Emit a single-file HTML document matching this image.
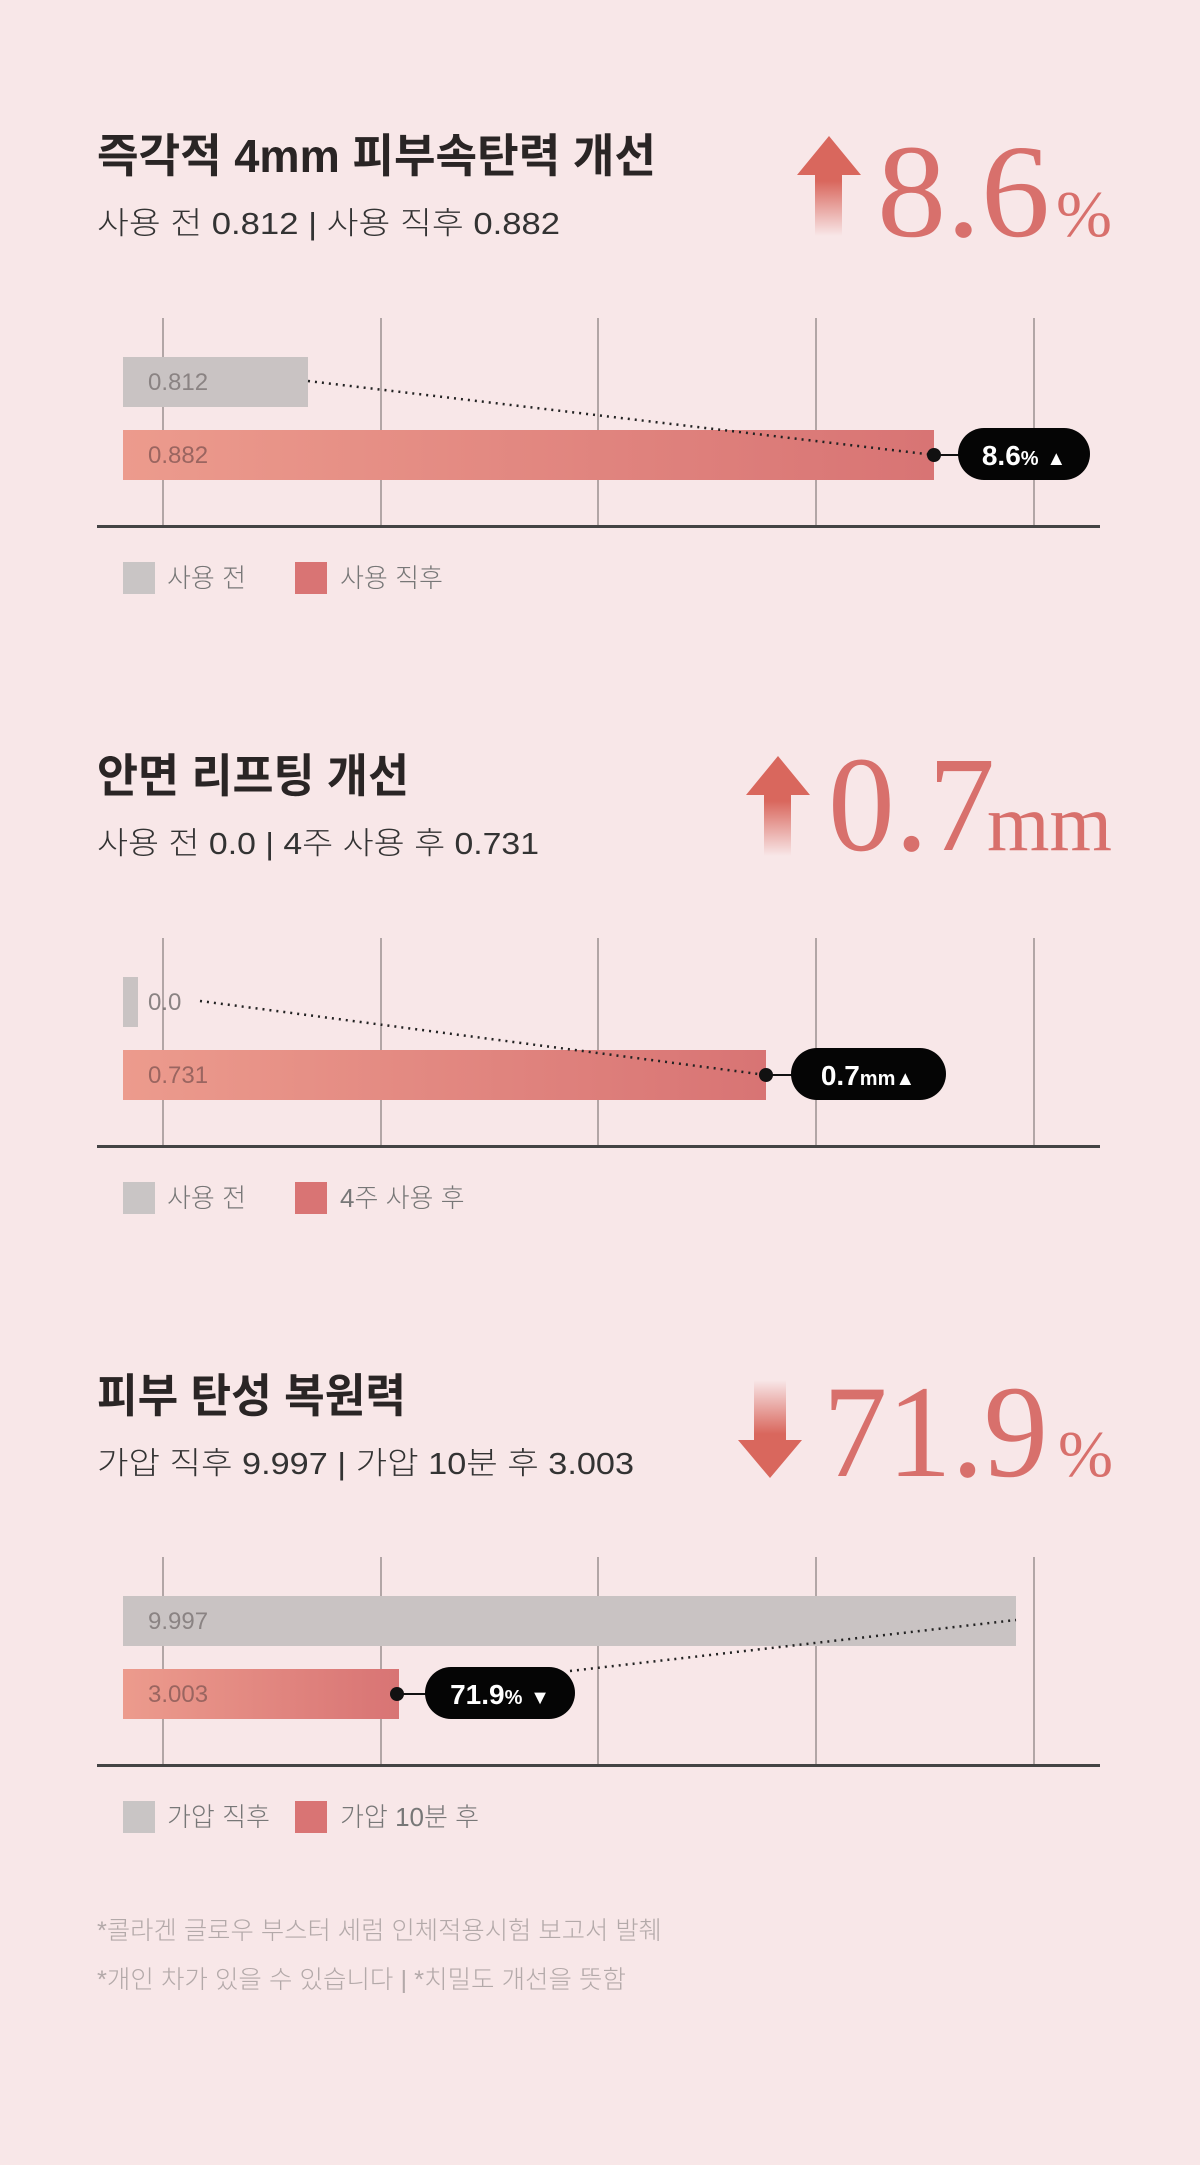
<!DOCTYPE html>
<html><head><meta charset="utf-8"><style>
html,body{margin:0;padding:0;background:#f8e7e8;}
svg{display:block;}
.t{font-family:"Liberation Sans","Noto Sans CJK KR",sans-serif;}
.s{font-family:"Liberation Serif","Noto Serif CJK SC",serif;}
</style></head><body>
<svg width="1200" height="2165" viewBox="0 0 1200 2165" xmlns="http://www.w3.org/2000/svg">
<defs>
<linearGradient id="bar" x1="0" x2="1" y1="0" y2="0"><stop offset="0" stop-color="#ec9b8d"/><stop offset="1" stop-color="#d87474"/></linearGradient>
<linearGradient id="up" x1="0" x2="0" y1="0" y2="1"><stop offset="0.45" stop-color="#d9675d"/><stop offset="1" stop-color="#d9675d" stop-opacity="0"/></linearGradient>
<linearGradient id="dn" x1="0" x2="0" y1="1" y2="0"><stop offset="0.45" stop-color="#d9675d"/><stop offset="1" stop-color="#d9675d" stop-opacity="0"/></linearGradient>
</defs>
<rect width="1200" height="2165" fill="#f8e7e8"/>

<!-- Section 1 -->
<text class="t" x="97" y="172" font-size="46" font-weight="700" fill="#2a2525" textLength="559" lengthAdjust="spacingAndGlyphs">즉각적 4mm 피부속탄력 개선</text>
<text class="t" x="97" y="234" font-size="31" font-weight="300" fill="#333" textLength="463" lengthAdjust="spacingAndGlyphs">사용 전 0.812 | 사용 직후 0.882</text>
<path d="M797,175 L829,136 L861,175 L842,175 L842,236 L815,236 L815,175 Z" fill="url(#up)"/>
<text class="s" x="877" y="236" font-size="133" fill="#d8706c" textLength="173" lengthAdjust="spacingAndGlyphs">8.6</text>
<text class="s" x="1056" y="236" font-size="66" fill="#d8706c" textLength="56" lengthAdjust="spacingAndGlyphs">%</text>
<g stroke="#6d6565" stroke-width="1"><line x1="163" y1="318" x2="163" y2="526"/><line x1="381" y1="318" x2="381" y2="526"/><line x1="598" y1="318" x2="598" y2="526"/><line x1="816" y1="318" x2="816" y2="526"/><line x1="1034" y1="318" x2="1034" y2="526"/></g>
<rect x="123" y="357" width="185" height="50" fill="#c9c3c3"/>
<rect x="123" y="430" width="811" height="50" fill="url(#bar)"/>
<text class="t" x="148" y="390" font-size="24" font-weight="300" fill="#8a8383">0.812</text>
<text class="t" x="148" y="463" font-size="24" font-weight="300" fill="#9a6560">0.882</text>
<line x1="308" y1="381" x2="934" y2="455" stroke="#222" stroke-width="2.5" stroke-dasharray="2,5"/>
<line x1="934" y1="455" x2="960" y2="455" stroke="#111" stroke-width="2"/>
<circle cx="934" cy="455" r="7" fill="#111"/>
<rect x="958" y="428" width="132" height="52" rx="26" fill="#050505"/>
<text class="t" x="1024" y="465" font-size="28" font-weight="700" fill="#fff" text-anchor="middle">8.6<tspan font-size="20">%</tspan> <tspan font-size="20">▲</tspan></text>
<rect x="97" y="525" width="1003" height="3" fill="#444"/>
<rect x="123" y="562" width="32" height="32" fill="#c9c5c5"/>
<text class="t" x="167" y="587" font-size="26" font-weight="300" fill="#777">사용 전</text>
<rect x="295" y="562" width="32" height="32" fill="#d97474"/>
<text class="t" x="340" y="587" font-size="26" font-weight="300" fill="#777">사용 직후</text>

<!-- Section 2 -->
<text class="t" x="97" y="792" font-size="46" font-weight="700" fill="#2a2525" textLength="312" lengthAdjust="spacingAndGlyphs">안면 리프팅 개선</text>
<text class="t" x="97" y="854" font-size="31" font-weight="300" fill="#333" textLength="442" lengthAdjust="spacingAndGlyphs">사용 전 0.0 | 4주 사용 후 0.731</text>
<path d="M746,795 L778,756 L810,795 L791,795 L791,856 L764,856 L764,795 Z" fill="url(#up)"/>
<text class="s" x="828" y="850" font-size="136" fill="#d8706c" textLength="167" lengthAdjust="spacingAndGlyphs">0.7</text>
<text class="s" x="987" y="850" font-size="80" fill="#d8706c" textLength="125" lengthAdjust="spacingAndGlyphs">mm</text>
<g stroke="#6d6565" stroke-width="1"><line x1="163" y1="938" x2="163" y2="1146"/><line x1="381" y1="938" x2="381" y2="1146"/><line x1="598" y1="938" x2="598" y2="1146"/><line x1="816" y1="938" x2="816" y2="1146"/><line x1="1034" y1="938" x2="1034" y2="1146"/></g>
<rect x="123" y="977" width="15" height="50" fill="#c9c3c3"/>
<rect x="123" y="1050" width="643" height="50" fill="url(#bar)"/>
<text class="t" x="148" y="1010" font-size="24" font-weight="300" fill="#8a8383">0.0</text>
<text class="t" x="148" y="1083" font-size="24" font-weight="300" fill="#9a6560">0.731</text>
<line x1="200" y1="1001" x2="766" y2="1075" stroke="#222" stroke-width="2.5" stroke-dasharray="2,5"/>
<line x1="766" y1="1075" x2="792" y2="1075" stroke="#111" stroke-width="2"/>
<circle cx="766" cy="1075" r="7" fill="#111"/>
<rect x="791" y="1048" width="155" height="52" rx="26" fill="#050505"/>
<text class="t" x="868" y="1085" font-size="28" font-weight="700" fill="#fff" text-anchor="middle">0.7<tspan font-size="20">mm</tspan><tspan font-size="20">▲</tspan></text>
<rect x="97" y="1145" width="1003" height="3" fill="#444"/>
<rect x="123" y="1182" width="32" height="32" fill="#c9c5c5"/>
<text class="t" x="167" y="1207" font-size="26" font-weight="300" fill="#777">사용 전</text>
<rect x="295" y="1182" width="32" height="32" fill="#d97474"/>
<text class="t" x="340" y="1207" font-size="26" font-weight="300" fill="#777">4주 사용 후</text>

<!-- Section 3 -->
<text class="t" x="97" y="1412" font-size="46" font-weight="700" fill="#2a2525" textLength="309" lengthAdjust="spacingAndGlyphs">피부 탄성 복원력</text>
<text class="t" x="97" y="1474" font-size="31" font-weight="300" fill="#333" textLength="537" lengthAdjust="spacingAndGlyphs">가압 직후 9.997 | 가압 10분 후 3.003</text>
<path d="M754,1380 L786,1380 L786,1440 L802,1440 L770,1478 L738,1440 L754,1440 Z" fill="url(#dn)"/>
<text class="s" x="823" y="1476" font-size="132" fill="#d8706c" textLength="225" lengthAdjust="spacingAndGlyphs">71.9</text>
<text class="s" x="1058" y="1476" font-size="66" fill="#d8706c" textLength="55" lengthAdjust="spacingAndGlyphs">%</text>
<g stroke="#6d6565" stroke-width="1"><line x1="163" y1="1557" x2="163" y2="1765"/><line x1="381" y1="1557" x2="381" y2="1765"/><line x1="598" y1="1557" x2="598" y2="1765"/><line x1="816" y1="1557" x2="816" y2="1765"/><line x1="1034" y1="1557" x2="1034" y2="1765"/></g>
<rect x="123" y="1596" width="893" height="50" fill="#c9c3c3"/>
<rect x="123" y="1669" width="276" height="50" fill="url(#bar)"/>
<text class="t" x="148" y="1629" font-size="24" font-weight="300" fill="#8a8383">9.997</text>
<text class="t" x="148" y="1702" font-size="24" font-weight="300" fill="#9a6560">3.003</text>
<line x1="570" y1="1671" x2="1016" y2="1620" stroke="#222" stroke-width="2.5" stroke-dasharray="2,5"/>
<line x1="397" y1="1694" x2="426" y2="1694" stroke="#111" stroke-width="2"/>
<circle cx="397" cy="1694" r="7" fill="#111"/>
<rect x="425" y="1667" width="150" height="52" rx="26" fill="#050505"/>
<text class="t" x="500" y="1704" font-size="28" font-weight="700" fill="#fff" text-anchor="middle">71.9<tspan font-size="20">%</tspan> <tspan font-size="20">▼</tspan></text>
<rect x="97" y="1764" width="1003" height="3" fill="#444"/>
<rect x="123" y="1801" width="32" height="32" fill="#c9c5c5"/>
<text class="t" x="167" y="1826" font-size="26" font-weight="300" fill="#777">가압 직후</text>
<rect x="295" y="1801" width="32" height="32" fill="#d97474"/>
<text class="t" x="340" y="1826" font-size="26" font-weight="300" fill="#777">가압 10분 후</text>

<!-- Footnotes -->
<text class="t" x="97" y="1939" font-size="25" font-weight="300" fill="#b3a9a9" textLength="565" lengthAdjust="spacingAndGlyphs">*콜라겐 글로우 부스터 세럼 인체적용시험 보고서 발췌</text>
<text class="t" x="97" y="1988" font-size="25" font-weight="300" fill="#b3a9a9" textLength="529" lengthAdjust="spacingAndGlyphs">*개인 차가 있을 수 있습니다  | *치밀도 개선을 뜻함</text>
</svg>
</body></html>
